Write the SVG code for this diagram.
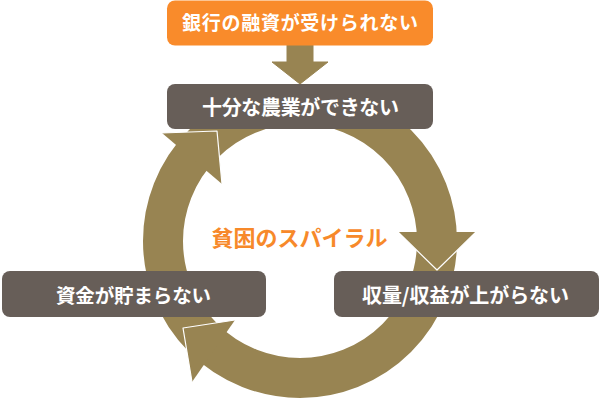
<svg xmlns="http://www.w3.org/2000/svg" xmlns:xlink="http://www.w3.org/1999/xlink" width="600" height="400" viewBox="0 0 600 400">
<style>
.box{fill:#675E58}
.obox{fill:#F98B2B}
.lbl{fill:#FFFFFF;font-family:'Noto Sans CJK JP','Noto Sans',sans-serif;font-weight:700;text-anchor:middle}
.ctr{fill:#F7892A;font-family:'Noto Sans CJK JP','Noto Sans',sans-serif;font-weight:700;text-anchor:middle}
.ring{fill:none;stroke:#988452;stroke-width:40}
.head{fill:#988452}
.edge{fill:none;stroke:#FFFFFF;stroke-width:1.2;stroke-linejoin:round}
</style>
<g id="connectors">
  <circle class="ring" cx="300" cy="241" r="137"/>
  <polygon class="head" points="398,232 476,232 437,270"/>
  <polyline class="edge" points="398,232 437,270 476,232"/>
  <polygon class="head" points="235,320 192,382 183,328"/>
  <polyline class="edge" points="235,320 183,328 192,382"/>
  <polygon class="head" points="162,133 222,184 217,131"/>
  <polyline class="edge" points="162,133 217,131 222,184"/>
  <polygon class="head" points="287,45 313,45 313,62 328,62 300,84 272,62 287,62" stroke="#988452" stroke-width="1" stroke-linejoin="round"/>
</g>
<g id="node-bank">
  <rect class="obox" x="167" y="0.5" width="266" height="45" rx="8"/>
  <text class="lbl" x="300" y="30" font-size="19" textLength="236" lengthAdjust="spacing">銀行の融資が受けられない</text>
</g>
<g id="node-farming">
  <rect class="box" x="167" y="84" width="266" height="45" rx="8"/>
  <text class="lbl" x="300.5" y="115" font-size="20" textLength="197" lengthAdjust="spacing">十分な農業ができない</text>
</g>
<g id="node-yield">
  <rect class="box" x="334" y="271" width="265" height="46" rx="8"/>
  <text class="lbl" x="465.5" y="302.5" font-size="20" textLength="207" lengthAdjust="spacing">収量/収益が上がらない</text>
</g>
<g id="node-savings">
  <rect class="box" x="2" y="271" width="264" height="46" rx="8"/>
  <text class="lbl" x="133.5" y="302.5" font-size="19.5" textLength="155" lengthAdjust="spacing">資金が貯まらない</text>
</g>
<g id="title">
  <text class="ctr" x="299.5" y="246" font-size="22" textLength="176" lengthAdjust="spacing">貧困のスパイラル</text>
</g>
</svg>
